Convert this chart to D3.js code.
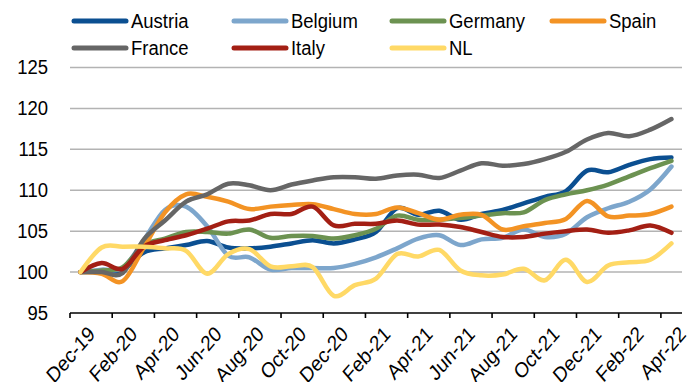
<!DOCTYPE html>
<html>
<head>
<meta charset="utf-8">
<script src="https://cdn.jsdelivr.net/npm/d3@7"></script>
<style>
  html, body { margin: 0; padding: 0; background: #fff; }
  svg { display: block; font-family: "Liberation Sans", Arial, sans-serif; }
</style>
</head>
<body>
<svg id="chart" width="692" height="382"></svg>
<script>
// Monthly index levels, Dec-19 = 100
const months = ["Dec-19","Jan-20","Feb-20","Mar-20","Apr-20","May-20","Jun-20","Jul-20","Aug-20","Sep-20","Oct-20","Nov-20","Dec-20",
  "Jan-21","Feb-21","Mar-21","Apr-21","May-21","Jun-21","Jul-21","Aug-21","Sep-21","Oct-21","Nov-21","Dec-21",
  "Jan-22","Feb-22","Mar-22","Apr-22"];

const austria = [100,100.1,100.3,102.4,102.9,103.3,103.8,103.0,102.9,103.1,103.5,103.9,103.5,104.0,104.9,107.8,107.0,107.5,106.4,107.1,107.6,108.4,109.2,109.9,112.4,112.2,113.1,113.8,114.0];
const belgium = [100,100.3,100.5,103.9,107.6,108.0,105.6,102.0,101.8,100.3,100.5,100.5,100.5,101.0,101.8,102.9,104.1,104.5,103.3,104.0,104.2,105.2,104.3,104.7,106.7,107.8,108.6,110.1,112.9];
const germany = [100,100.2,100.6,103.3,104.1,104.9,104.9,104.7,105.2,104.2,104.4,104.4,104.1,104.5,105.3,106.9,106.4,106.4,106.6,106.9,107.2,107.3,108.8,109.5,110.0,110.7,111.7,112.7,113.6];
const spain   = [100,99.8,98.9,103.0,107.3,109.5,109.2,108.6,107.7,108.0,108.2,108.3,107.7,107.1,107.1,107.9,107.2,106.4,107.0,107.0,105.2,105.6,106.0,106.5,108.7,106.8,106.9,107.1,108.0];
const france  = [100,100.0,99.9,104.0,106.3,108.6,109.5,110.8,110.6,110.0,110.7,111.2,111.6,111.6,111.4,111.8,111.9,111.5,112.4,113.3,113.0,113.2,113.8,114.7,116.2,117.0,116.6,117.4,118.7];
const italy   = [100,101.1,100.4,103.1,103.9,104.5,105.3,106.2,106.3,107.1,107.1,108.0,105.7,105.9,105.9,106.3,105.8,105.8,105.5,104.9,104.3,104.3,104.7,105.0,105.2,104.8,105.1,105.7,104.8];
const nl      = [100,103.0,103.1,103.1,102.9,102.6,99.8,102.2,102.8,100.7,100.7,100.6,97.1,98.4,99.2,102.2,101.9,102.7,100.2,99.6,99.7,100.4,99.0,101.5,98.8,100.8,101.2,101.5,103.5];

const seriesNames  = ["Austria","Belgium","Germany","Spain","France","Italy","NL"];
const seriesValues = [austria, belgium, germany, spain, france, italy, nl];
const seriesColors = ["#0b4f91","#7da6cc","#6c9251","#f39324","#666666","#a31f14","#ffd966"];

const yTicks = [95,100,105,110,115,120,125];
const xLabelEvery = 2;

const svg = d3.select("#chart");
const plotLeft = 70, plotRight = 682, plotTop = 67.5, plotBottom = 313;
const textStretch = "scale(1,1.08)";   // text is drawn slightly tall and narrow

const x = d3.scaleBand().domain(months).range([plotLeft, plotRight]).padding(0);
const y = d3.scaleLinear().domain([95, 125]).range([plotBottom, plotTop]);
const cx = d => x(d) + x.bandwidth() / 2;

// horizontal gridlines
svg.append("g").selectAll("line")
  .data(yTicks.filter(t => t > 95))
  .join("line")
  .attr("x1", plotLeft).attr("x2", plotRight)
  .attr("y1", d => y(d)).attr("y2", d => y(d))
  .attr("stroke", "#b3b3b3").attr("stroke-width", 1.5);

// y labels
const yAxis = d3.axisLeft(y).tickValues(yTicks).tickSize(0).tickPadding(22);
const gy = svg.append("g").attr("transform", `translate(${plotLeft},0)`).call(yAxis);
gy.select(".domain").remove();
gy.selectAll("text").attr("font-size", 18.5).attr("fill", "#000")
  .attr("font-family", "Liberation Sans, Arial, sans-serif")
  .attr("transform", textStretch);

// x axis: ticks on category boundaries every two months
const tickMonths = months.filter((m, i) => i % xLabelEvery === 0);
const gx = svg.append("g");
gx.append("line").attr("x1", plotLeft).attr("x2", plotRight).attr("y1", plotBottom).attr("y2", plotBottom)
  .attr("stroke", "#000").attr("stroke-width", 1.6);
gx.selectAll("line.tk").data(tickMonths).join("line").attr("class", "tk")
  .attr("x1", d => x(d)).attr("x2", d => x(d))
  .attr("y1", plotBottom).attr("y2", plotBottom + 5)
  .attr("stroke", "#000").attr("stroke-width", 1.6);
gx.selectAll("text").data(tickMonths).join("text")
  .attr("transform", d => `translate(${cx(d) + 11},${plotBottom + 17}) scale(1,1.16) rotate(-45)`)
  .attr("text-anchor", "end")
  .attr("dy", "0.35em")
  .attr("font-size", 18.5)
  .text(d => d);

// series lines
const line = d3.line()
  .x((v, i) => cx(months[i]))
  .y(v => y(v))
  .curve(d3.curveCardinal.tension(0));

svg.append("g").selectAll("path")
  .data(seriesValues)
  .join("path")
  .attr("d", d => line(d))
  .attr("fill", "none")
  .attr("stroke", (d, i) => seriesColors[i])
  .attr("stroke-width", 4.5)
  .attr("stroke-linejoin", "round")
  .attr("stroke-linecap", "round");

// legend in two rows
const legendX = [72, 232, 390, 550];
const legendY = [21, 48];
const lg = svg.append("g");
seriesNames.forEach((name, i) => {
  const col = i % 4, row = Math.floor(i / 4);
  const g = lg.append("g").attr("transform", `translate(${legendX[col]},${legendY[row]})`);
  g.append("line").attr("x1", 2).attr("x2", 54).attr("y1", 0).attr("y2", 0)
    .attr("stroke", seriesColors[i]).attr("stroke-width", 5).attr("stroke-linecap", "round");
  g.append("text").attr("x", 59).attr("y", 0).attr("dy", "0.35em")
    .attr("transform", textStretch)
    .attr("font-size", 18.5).text(name);
});
</script>
</body>
</html>
